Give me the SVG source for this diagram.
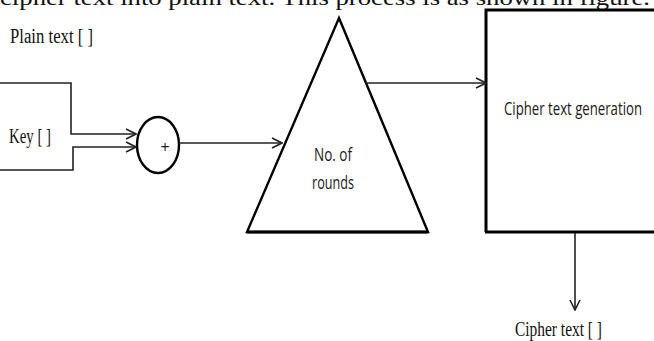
<svg xmlns="http://www.w3.org/2000/svg" width="654" height="341" viewBox="0 0 654 341">
<style>
.ln{fill:none;stroke:#222;stroke-width:1.6}
.thick{fill:none;stroke:#000;stroke-width:3}
.sh{fill:none;stroke:#000;stroke-width:2.4}
.serif{font-family:"Liberation Serif","Times New Roman",serif;fill:#111}
.sans{font-family:"Open Sans","Liberation Sans",sans-serif;fill:#1a1a1a}
</style>
<defs>
<marker id="arr" markerWidth="12" markerHeight="12" refX="11" refY="6" orient="auto" markerUnits="userSpaceOnUse">
<polyline points="1,1 11,6 1,11" fill="none" stroke="#222" stroke-width="1.6"/>
</marker>
</defs>
<rect width="654" height="341" fill="#fff"/>
<text class="serif" x="0" y="5" font-size="21" textLength="650" lengthAdjust="spacingAndGlyphs">cipher text into plain text. This process is as shown in figure.</text>
<g id="plain-text">
<text class="serif" x="10" y="43" font-size="20" textLength="83" lengthAdjust="spacingAndGlyphs">Plain text [ ]</text>
</g>
<g id="key">
<text class="serif" x="9" y="143" font-size="20" textLength="42" lengthAdjust="spacingAndGlyphs">Key [ ]</text>
</g>
<g id="xor">
<ellipse cx="158" cy="145" rx="21" ry="28" class="sh"/>
<text class="sans" x="165" y="153" font-size="16" text-anchor="middle">+</text>
</g>
<g id="rounds">
<polygon points="339,18 428,232 247,232" class="sh" stroke-linejoin="miter"/>
<line x1="247" y1="232" x2="428" y2="232" class="thick"/>
<text class="sans" x="333" y="161" font-size="19" text-anchor="middle" textLength="38" lengthAdjust="spacingAndGlyphs">No. of</text>
<text class="sans" x="333" y="189" font-size="19" text-anchor="middle" textLength="42" lengthAdjust="spacingAndGlyphs">rounds</text>
</g>
<g id="generation">
<polyline points="486,232 486,10 660,10" class="thick"/>
<line x1="485" y1="232" x2="660" y2="232" class="thick"/>
<text class="sans" x="504" y="115" font-size="19" textLength="138" lengthAdjust="spacingAndGlyphs">Cipher text generation</text>
</g>
<g id="cipher-text">
<text class="serif" x="515" y="336" font-size="20" textLength="87" lengthAdjust="spacingAndGlyphs">Cipher text [ ]</text>
</g>
<g id="connectors">
<polyline points="0,83 71,83 71,134 136,134" class="ln" marker-end="url(#arr)"/>
<polyline points="0,170 73,170 73,147 136,147" class="ln" marker-end="url(#arr)"/>
<line x1="179" y1="143" x2="282" y2="143" class="ln" marker-end="url(#arr)"/>
<line x1="366" y1="83" x2="486" y2="83" class="ln" marker-end="url(#arr)"/>
<line x1="575" y1="233" x2="575" y2="310" class="ln" marker-end="url(#arr)"/>
</g>
</svg>
